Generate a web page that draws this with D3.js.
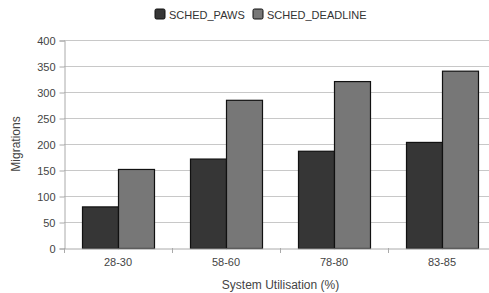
<!DOCTYPE html>
<html>
<head>
<meta charset="utf-8">
<script src="https://cdn.jsdelivr.net/npm/d3@7"></script>
<style>
  body { margin: 0; background: #fff; }
  svg { font-family: "Liberation Sans", Arial, sans-serif; }
</style>
</head>
<body>
<div class="root"></div>
<script>
var categories = ["28-30", "58-60", "78-80", "83-85"];
var seriesNames = ["SCHED_PAWS", "SCHED_DEADLINE"];
var paws = [80, 172, 187, 204];
var deadline = [152, 285, 321, 341];
var yTicks = [0, 50, 100, 150, 200, 250, 300, 350, 400];

var width = 489, height = 293,
    plotLeft = 64, plotRight = 496, plotTop = 40, plotBottom = 248;

var colors = {"SCHED_PAWS": "#363636", "SCHED_DEADLINE": "#777777"};

var svg = d3.select('.root')
            .append('svg')
            .attr("width", width)
            .attr("height", height);

var x = d3.scaleBand()
          .domain(categories)
          .range([plotLeft, plotRight])
          .paddingInner(0)
          .paddingOuter(0);

var xInner = d3.scaleBand()
               .domain(seriesNames)
               .range([0, x.bandwidth()])
               .paddingOuter(0.5)
               .paddingInner(0);

var y = d3.scaleLinear().domain([0, 400]).range([plotBottom, plotTop]);

// grid lines
svg.append('g')
   .selectAll('line')
   .data(yTicks.slice(1))
   .enter()
   .append('line')
   .attr("x1", plotLeft)
   .attr("x2", width)
   .attr("y1", function (d) { return y(d) + 0.5; })
   .attr("y2", function (d) { return y(d) + 0.5; })
   .attr("stroke", "#c8c8c8")
   .attr("stroke-width", 1);

// y axis
var yAxis = svg.append('g')
               .attr("transform", "translate(" + (plotLeft + 0.5) + ",0.5)")
               .call(d3.axisLeft(y).tickValues(yTicks).tickSize(5).tickPadding(4));
yAxis.select(".domain").attr("stroke", "#aaa");
yAxis.selectAll(".tick line").attr("stroke", "#aaa");
yAxis.selectAll("text").attr("fill", "#444").style("font-size", "11px");

// bars
var rows = categories.map(function (c, i) {
  return {cat: c, vals: [
    {name: "SCHED_PAWS", value: paws[i]},
    {name: "SCHED_DEADLINE", value: deadline[i]}
  ]};
});

var groups = svg.append('g')
                .selectAll('g')
                .data(rows)
                .enter()
                .append('g')
                .attr("transform", function (d) { return "translate(" + x(d.cat) + ",0)"; });

groups.selectAll('rect')
      .data(function (d) { return d.vals; })
      .enter()
      .append('rect')
      .attr("x", function (d) { return xInner(d.name) + 0.5; })
      .attr("y", function (d) { return y(d.value) + 0.5; })
      .attr("width", xInner.bandwidth())
      .attr("height", function (d) { return plotBottom - y(d.value); })
      .attr("fill", function (d) { return colors[d.name]; })
      .attr("stroke", "#111")
      .attr("stroke-width", 1.2);

// x axis
var xAxis = svg.append('g')
               .attr("transform", "translate(0," + (plotBottom + 0.5) + ")")
               .call(d3.axisBottom(x).tickSize(0).tickPadding(10));
xAxis.select(".domain").attr("stroke", "#aaa");
xAxis.selectAll("text").attr("fill", "#444").style("font-size", "11px");

// category separator ticks
svg.append('g')
   .selectAll('line')
   .data(categories)
   .enter()
   .append('line')
   .attr("x1", function (d) { return x(d) + 0.5; })
   .attr("x2", function (d) { return x(d) + 0.5; })
   .attr("y1", plotBottom)
   .attr("y2", plotBottom + 5)
   .attr("stroke", "#aaa");

// axis titles
svg.append('text')
   .attr("x", (plotLeft + width) / 2 + 4)
   .attr("y", 289)
   .attr("text-anchor", "middle")
   .attr("fill", "#444")
   .style("font-size", "12px")
   .text("System Utilisation (%)");

svg.append('text')
   .attr("transform", "translate(20," + ((plotTop + plotBottom) / 2) + ") rotate(-90)")
   .attr("text-anchor", "middle")
   .attr("fill", "#444")
   .style("font-size", "12px")
   .text("Migrations");

// legend
var legendX = [155, 253];
var legend = svg.append('g')
                .selectAll('g')
                .data(seriesNames)
                .enter()
                .append('g')
                .attr("transform", function (d, i) { return "translate(" + legendX[i] + ",9)"; });

legend.append('rect')
      .attr("width", 10)
      .attr("height", 10)
      .attr("rx", 1.5)
      .attr("fill", function (d) { return colors[d]; })
      .attr("stroke", "#111");

legend.append('text')
      .attr("x", 14)
      .attr("y", 9.5)
      .attr("fill", "#333")
      .style("font-size", "11px")
      .text(function (d) { return d; });
</script>
</body>
</html>
